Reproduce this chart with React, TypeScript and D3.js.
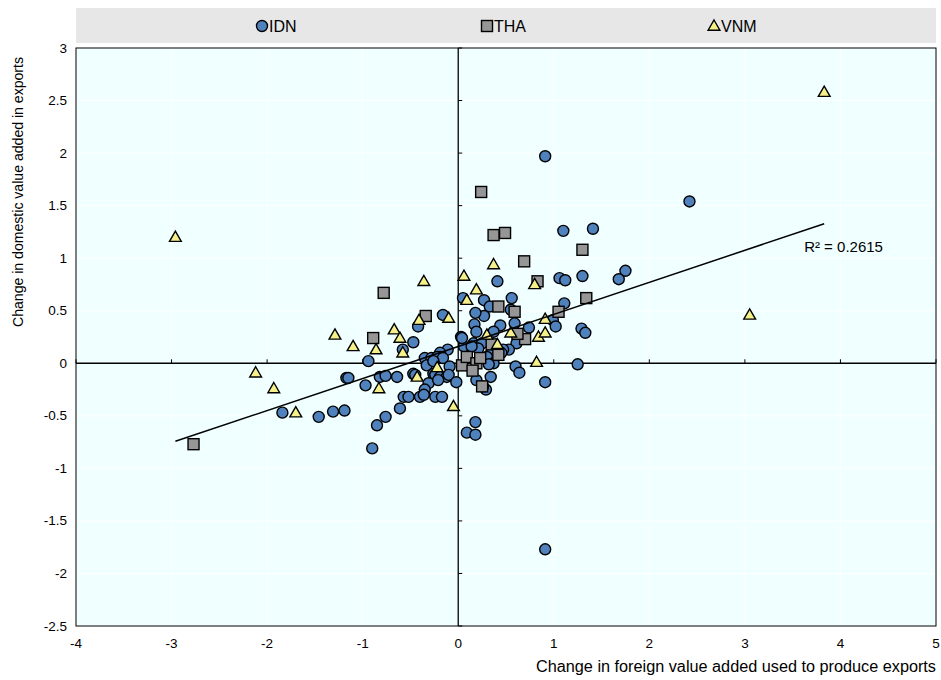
import React from "react";
import * as d3 from "d3";

// ---------- data ----------
const seriesNames = ["IDN", "THA", "VNM"];

const idnX = [0.91, 2.42, 1.41, 1.10, 1.75, 1.68, 1.30, 1.06, 1.12, 0.41, 1.11, 1.29, 1.33, 1.25, 0.91, 0.91, -0.90, -1.84, -1.46, -1.31, -1.19, -1.17, -0.85, -0.76, -0.61, 0.09, 0.18, 0.18, 0.29,
  0.56, 0.27, 0.05, 0.33, 0.55, -0.16, 0.27, 0.18, 0.17, 0.44, 0.59, 0.74, 0.99, 1.02, 0.19, 0.37, -0.42, -0.47, 0.61, 0.53, 0.47, 0.03, 0.06, 0.16, 0.25, 0.21, -0.11, -0.19, -0.19, -0.58, 0.33, 0.45, 0.30, 0.37, 0.32, 0.60, 0.64, 0.34, 0.19,
  -0.35, -0.28, -0.22, -0.16, -0.94, -0.33, -0.26, -0.09, -1.15, -0.82, -0.76, -0.64, -0.47, -0.45, -0.26, -0.24, -0.19, -0.12, -0.10, -0.31, -0.21, -0.02, -0.97, -0.35, -0.57, -0.52, -0.40, -0.36, -0.24, -0.17, 0.04, 0.14, 0.26];
const idnY = [1.97, 1.54, 1.28, 1.26, 0.88, 0.80, 0.83, 0.81, 0.79, 0.78, 0.57, 0.33, 0.29, -0.01, -0.18, -1.77, -0.81, -0.47, -0.51, -0.46, -0.45, -0.14, -0.59, -0.51, -0.43, -0.66, -0.68, -0.56, -0.25,
  0.62, 0.60, 0.62, 0.54, 0.51, 0.46, 0.45, 0.48, 0.37, 0.36, 0.38, 0.34, 0.41, 0.35, 0.30, 0.30, 0.35, 0.20, 0.19, 0.13, 0.13, 0.25, 0.16, 0.19, 0.19, 0.14, 0.13, 0.10, 0.06, 0.13, 0.08, 0.10, 0.06, 0.00, -0.01, -0.03, -0.09, -0.13, -0.16,
  0.05, 0.05, 0.06, 0.05, 0.02, -0.02, 0.02, -0.03, -0.14, -0.13, -0.12, -0.13, -0.10, -0.11, -0.10, -0.11, -0.13, -0.13, -0.11, -0.19, -0.16, -0.18, -0.21, -0.25, -0.32, -0.32, -0.32, -0.30, -0.32, -0.32, 0.24, 0.16, -0.22];

const thaX = [-2.77, -0.78, -0.89, -0.34, 0.04, 0.09, 0.19, 0.23, 0.15, 0.25, 0.24, 0.37, 0.49, 1.30, 0.69, 0.83, 1.34, 0.42, 0.59, 1.05, 0.70, 0.62, 0.35, 0.42];
const thaY = [-0.77, 0.67, 0.24, 0.45, -0.02, 0.06, 0.00, 0.05, -0.07, -0.22, 1.63, 1.22, 1.24, 1.08, 0.97, 0.78, 0.62, 0.54, 0.49, 0.49, 0.23, 0.28, 0.18, 0.08];

const vnmX = [-2.96, 3.83, 3.05, -2.12, -1.93, -1.70, -1.29, -1.10, -0.86, -0.83, -0.67, -0.61, -0.58, -0.41, -0.36, -0.43, -0.22, -0.10, -0.05, 0.06, 0.09, 0.19, 0.30, 0.37, 0.41, 0.55, 0.80, 0.84, 0.91, 0.91, 0.82];
const vnmY = [1.20, 2.58, 0.46, -0.09, -0.24, -0.47, 0.27, 0.16, 0.13, -0.24, 0.32, 0.24, 0.10, 0.41, 0.78, -0.13, -0.04, 0.43, -0.41, 0.83, 0.60, 0.70, 0.27, 0.94, 0.18, 0.29, 0.75, 0.25, 0.42, 0.29, 0.01];

const xTicks = [-4, -3, -2, -1, 0, 1, 2, 3, 4, 5];
const yTicks = [3, 2.5, 2, 1.5, 1, 0.5, 0, -0.5, -1, -1.5, -2, -2.5];

const trendSlope = 0.305;
const trendIntercept = 0.16;
const rSquaredLabel = "R² = 0.2615";
const rSquaredPos = [3.62, 1.06];

const xTitle = "Change in foreign value added used to produce exports";
const yTitle = "Change in domestic value added in exports";

// ---------- layout ----------
const W = 941, H = 680;
const FONT = "'Liberation Sans Narrow', 'Arial Narrow', 'Liberation Sans', Arial, sans-serif";
const x = d3.scaleLinear().domain([-4, 5]).range([76, 936]);
const y = d3.scaleLinear().domain([-2.5, 3]).range([626, 48]);

const colors = { IDN: "#4f81bd", THA: "#969696", VNM: "#f5f08a" };

const R = 5.5;
function Marker({ kind, cx, cy }: { kind: string; cx: number; cy: number }) {
  if (kind === "IDN") return <circle cx={cx} cy={cy} r={R} fill={colors.IDN} stroke="#000" strokeWidth={1.4} />;
  if (kind === "THA") return <rect x={cx - 5.5} y={cy - 5.5} width={11} height={11} fill={colors.THA} stroke="#000" strokeWidth={1.4} />;
  const path = d3.symbol(d3.symbolTriangle, 60)() as string;
  return <path d={path} transform={`translate(${cx},${cy + 0.8})`} fill={colors.VNM} stroke="#000" strokeWidth={1.4} />;
}

export default function App() {
  const idn = idnX.map((v, i) => [v, idnY[i]]);
  const tha = thaX.map((v, i) => [v, thaY[i]]);
  const vnm = vnmX.map((v, i) => [v, vnmY[i]]);
  const allX = [...idnX, ...thaX, ...vnmX];
  const [minX, maxX] = d3.extent(allX) as [number, number];
  const line = d3.line<number>().x((d) => x(d)).y((d) => y(trendIntercept + trendSlope * d));

  return (
    <svg width={W} height={H} style={{ position: "absolute", left: 0, top: 0, background: "#fff" }} fontFamily={FONT}>
      {/* legend band */}
      <rect x={76} y={8} width={860} height={35} fill="#e7e7e7" />
      {seriesNames.map((s, i) => {
        const lx = [262, 487, 714][i];
        return (
          <g key={s}>
            <Marker kind={s} cx={lx} cy={26} />
            <text x={lx + 7} y={31.5} fontSize={16} fill="#000">{s}</text>
          </g>
        );
      })}

      {/* plot background */}
      <rect x={x(-4)} y={y(3)} width={x(5) - x(-4)} height={y(-2.5) - y(3)} fill="#f0ffff" />
      {/* grid */}
      {xTicks.map((t) => (
        <line key={"gx" + t} x1={x(t)} x2={x(t)} y1={y(3)} y2={y(-2.5)} stroke="#fff" strokeWidth={1} />
      ))}
      {yTicks.map((t) => (
        <line key={"gy" + t} x1={x(-4)} x2={x(5)} y1={y(t)} y2={y(t)} stroke="#fff" strokeWidth={1} />
      ))}
      {/* zero axes */}
      <line x1={x(-4)} x2={x(5)} y1={y(0)} y2={y(0)} stroke="#000" strokeWidth={1.3} />
      <line x1={x(0)} x2={x(0)} y1={y(3)} y2={y(-2.5)} stroke="#000" strokeWidth={1.3} />
      {xTicks.map((t) => (
        <line key={"tx" + t} x1={x(t)} x2={x(t)} y1={y(0)} y2={y(0) - 4} stroke="#000" strokeWidth={1} />
      ))}
      {yTicks.map((t) => (
        <line key={"ty" + t} x1={x(0)} x2={x(0) + 4} y1={y(t)} y2={y(t)} stroke="#000" strokeWidth={1} />
      ))}
      {/* border */}
      <rect x={x(-4)} y={y(3)} width={x(5) - x(-4)} height={y(-2.5) - y(3)} fill="none" stroke="#000" strokeWidth={1} />

      {/* tick labels */}
      {xTicks.map((t) => (
        <text key={"lx" + t} x={x(t)} y={648} fontSize={13.5} textAnchor="middle" fill="#000">{t}</text>
      ))}
      {yTicks.map((t) => (
        <text key={"ly" + t} x={67} y={y(t) + 4.5} fontSize={13.5} textAnchor="end" fill="#000">{t}</text>
      ))}

      {/* axis titles */}
      <text x={936} y={672} fontSize={16} textAnchor="end" fill="#000" textLength={400} lengthAdjust="spacingAndGlyphs">{xTitle}</text>
      <text transform={`translate(23,57) rotate(-90)`} fontSize={15} textAnchor="end" fill="#000" textLength={270} lengthAdjust="spacingAndGlyphs">{yTitle}</text>

      {/* markers */}
      {idn.map((d, i) => <Marker key={"i" + i} kind="IDN" cx={x(d[0])} cy={y(d[1])} />)}
      {tha.map((d, i) => <Marker key={"t" + i} kind="THA" cx={x(d[0])} cy={y(d[1])} />)}
      {vnm.map((d, i) => <Marker key={"v" + i} kind="VNM" cx={x(d[0])} cy={y(d[1])} />)}

      {/* trend line */}
      <path d={line([minX, maxX]) as string} fill="none" stroke="#000" strokeWidth={1.5} />
      <text x={x(rSquaredPos[0])} y={y(rSquaredPos[1])} fontSize={15} fill="#000">{rSquaredLabel}</text>
    </svg>
  );
}
